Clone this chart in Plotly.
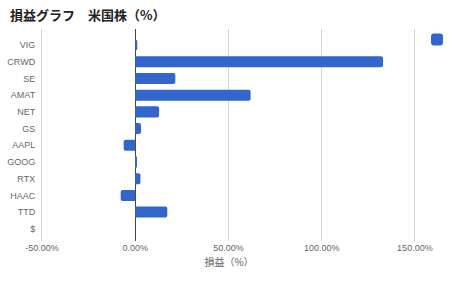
import plotly.graph_objects as go

# 損益（%） per holding, top to bottom
tickers = ["VIG", "CRWD", "SE", "AMAT", "NET", "GS", "AAPL", "GOOG", "RTX", "HAAC", "TTD", "$"]
pl_pct = [1.1, 132.9, 21.5, 61.9, 12.8, 3.1, -6.2, 0.5, 2.8, -7.8, 17.2, 0.0]

x_ticks = [-50, 0, 50, 100, 150]
x_tick_labels = ["-50.00%", "0.00%", "50.00%", "100.00%", "150.00%"]

W, H = 470, 289
BLUE = "#3366cc"
GRID = "#d6d6d6"
LABEL_FONT = dict(family="Liberation Sans, Arial, sans-serif", size=9, color="#666666")

fig = go.Figure(
    go.Bar(
        x=pl_pct,
        y=tickers,
        orientation="h",
        marker=dict(color=BLUE, line=dict(width=0)),
        name="",
        showlegend=True,
    )
)

fig.update_layout(
    width=W,
    height=H,
    margin=dict(l=41.5, r=54, t=29, b=48, autoexpand=False),
    paper_bgcolor="white",
    plot_bgcolor="white",
    bargap=0.34,
    barcornerradius=2,
    title=dict(
        text="<b>損益グラフ　米国株（%）</b>",
        font=dict(family="Noto Sans CJK JP", size=13, color="#222222"),
        x=10 / W, xref="container", xanchor="left",
        y=1 - 15 / H, yref="container", yanchor="middle",
    ),
    legend=dict(
        x=417 / W, xref="container", xanchor="left",
        y=1 - 25 / H, yref="container", yanchor="top",
        bgcolor="rgba(0,0,0,0)",
        font=dict(size=9),
        itemwidth=30,
    ),
    xaxis=dict(
        automargin=False,
        range=[-50, 150.6],
        tickvals=x_ticks,
        ticktext=x_tick_labels,
        tickfont=LABEL_FONT,
        showgrid=True,
        gridcolor=GRID,
        gridwidth=1,
        zeroline=True,
        zerolinecolor="#444444",
        zerolinewidth=1,
        showline=False,
        ticks="",
        ticklen=0,
        title=dict(
            text="損益（%）",
            font=dict(family="Noto Sans CJK JP", size=10, color="#666666"),
            standoff=6,
        ),
        fixedrange=True,
    ),
    yaxis=dict(
        automargin=False,
        categoryorder="array",
        categoryarray=tickers,
        autorange=False,
        range=[11.73, -0.96],
        tickfont=LABEL_FONT,
        showgrid=False,
        showline=True,
        linecolor=GRID,
        linewidth=1,
        ticks="",
        ticklabelstandoff=4,
        fixedrange=True,
    ),
)

fig.write_html("out.html")
